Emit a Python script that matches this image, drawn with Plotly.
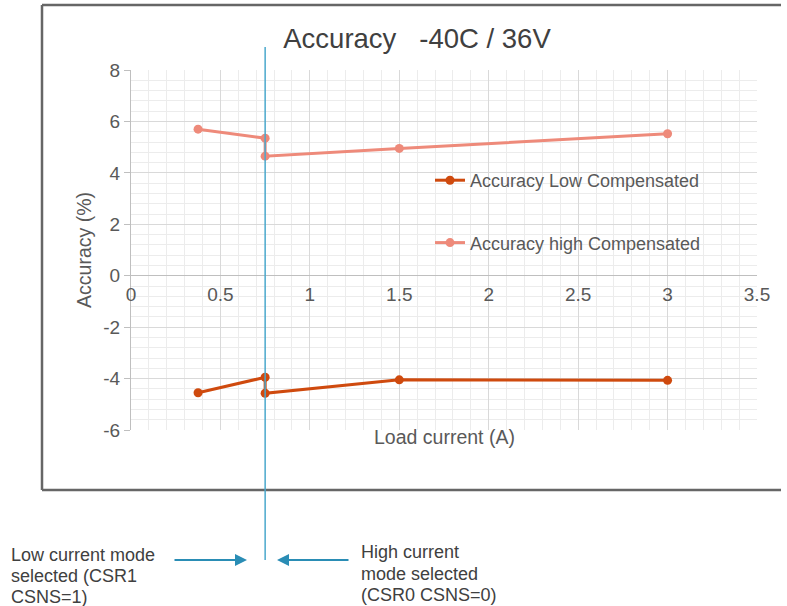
import plotly.graph_objects as go

# ---- data ----
load_current = [0.375, 0.75, 0.75, 1.5, 3.0]
acc_low = [-4.55, -3.95, -4.57, -4.05, -4.07]
acc_high = [5.70, 5.35, 4.65, 4.95, 5.52]
series_names = ["Accuracy Low Compensated", "Accuracy high Compensated"]
mode_switch_current = [0.75]
x_ticks = [0, 0.5, 1, 1.5, 2, 2.5, 3, 3.5]
x_tick_labels = ["0", "0.5", "1", "1.5", "2", "2.5", "3", "3.5"]
y_ticks = [-6, -4, -2, 0, 2, 4, 6, 8]
y_tick_labels = ["-6", "-4", "-2", "0", "2", "4", "6", "8"]
low_note = ["Low current mode", "selected (CSR1", "CSNS=1)"]
high_note = ["High current", "mode selected", "(CSR0 CSNS=0)"]

FONT = "Liberation Sans, Arial, sans-serif"
LOW_C = "#cf4a0e"
HIGH_C = "#ee8a7a"
BLUE = "#4aa8cc"
ARROW = "#2a8db5"
TXT = "#595959"

W, H = 787, 606
# plot area in window pixels: x 131..757, y 70..430
L, T = 131, 70
R = W - 757
B = H - 430
PW, PH = W - L - R, H - T - B


def px(xw):
    return (xw - L) / PW


def py(yw):
    return (H - B - yw) / PH


fig = go.Figure()
fig.add_trace(go.Scatter(x=load_current, y=acc_low, mode="lines+markers",
                         name=series_names[0], legendgroup="a",
                         line=dict(color=LOW_C, width=3),
                         marker=dict(color=LOW_C, size=9)))
fig.add_trace(go.Scatter(x=load_current, y=acc_high, mode="lines+markers",
                         name=series_names[1], legendgroup="b",
                         line=dict(color=HIGH_C, width=3),
                         marker=dict(color=HIGH_C, size=9)))

fig.update_layout(
    width=W, height=H,
    margin=dict(l=L, r=R, t=T, b=B),
    paper_bgcolor="white", plot_bgcolor="white",
    font=dict(family=FONT, color=TXT, size=18),
    title=dict(text="Accuracy\u00a0\u00a0\u00a0-40C / 36V", x=417 / W, xanchor="center",
               y=1 - 38 / H, yanchor="middle",
               font=dict(size=27.5, color="#404040", family=FONT)),
    showlegend=True,
    legend=dict(x=px(430), y=py(162), xanchor="left", yanchor="top",
                bgcolor="rgba(0,0,0,0)", tracegroupgap=36,
                font=dict(size=18, color=TXT)),
    xaxis=dict(range=[0, 3.5], tickvals=x_ticks, ticktext=x_tick_labels,
               anchor="free", position=6 / 14, showline=False, ticks="",
               ticklabelstandoff=5,
               showgrid=True, gridcolor="#d9d9d9", gridwidth=1,
               minor=dict(dtick=0.1, showgrid=True, gridcolor="#ececec", gridwidth=1),
               zeroline=False, tickfont=dict(size=19, color=TXT)),
    yaxis=dict(range=[-6, 8], tickvals=y_ticks, ticktext=y_tick_labels,
               showline=True, linecolor="#bfbfbf",
               linewidth=1, ticks="outside", ticklen=6, tickcolor="#bfbfbf",
               showgrid=True, gridcolor="#d9d9d9", gridwidth=1,
               minor=dict(dtick=0.4, showgrid=True, gridcolor="#ececec", gridwidth=1),
               zeroline=True, zerolinecolor="#bfbfbf", zerolinewidth=1,
               title=dict(text="Accuracy (%)", standoff=6, font=dict(size=19.5, color=TXT)),
               tickfont=dict(size=19, color=TXT)),
)

# outer frame (right side runs off the picture): three separate edges
FRAME = dict(color="#666666", width=2.5)
fx0, fx1, fy0, fy1 = px(42), px(W - 6), py(490), py(5)
fig.add_shape(type="line", xref="paper", yref="paper", x0=fx0, x1=fx1, y0=fy1, y1=fy1,
              line=FRAME, layer="below")
fig.add_shape(type="line", xref="paper", yref="paper", x0=fx0, x1=fx1, y0=fy0, y1=fy0,
              line=FRAME, layer="below")
fig.add_shape(type="line", xref="paper", yref="paper", x0=fx0, x1=fx0, y0=fy0, y1=fy1,
              line=FRAME, layer="below")

# mode switch line
for xs in mode_switch_current:
    fig.add_shape(type="line", xref="x", yref="paper", x0=xs, x1=xs,
                  y0=py(560), y1=py(47), line=dict(color=BLUE, width=1.5))

# x axis title
fig.add_annotation(text="Load current (A)", xref="paper", yref="paper",
                   x=px(444), y=py(450), showarrow=False,
                   font=dict(size=19.5, color=TXT))

# arrows
fig.add_annotation(text="", xref="paper", yref="paper", x=px(247), y=py(560),
                   ax=-74, ay=0, showarrow=True, arrowhead=2, arrowsize=1.2,
                   arrowwidth=2, arrowcolor=ARROW)
fig.add_annotation(text="", xref="paper", yref="paper", x=px(277), y=py(560),
                   ax=73, ay=0, showarrow=True, arrowhead=2, arrowsize=1.2,
                   arrowwidth=2, arrowcolor=ARROW)

for i, line in enumerate(low_note):
    fig.add_annotation(text=line, xref="paper", yref="paper", x=px(9), y=py(555 + 21 * i),
                       xanchor="left", yanchor="middle", showarrow=False,
                       font=dict(size=18, color="#404040"))
for i, line in enumerate(high_note):
    fig.add_annotation(text=line, xref="paper", yref="paper", x=px(359), y=py(552 + 21.5 * i),
                       xanchor="left", yanchor="middle", showarrow=False,
                       font=dict(size=18, color="#404040"))

fig.write_html("out.html", config={"displayModeBar": False},
               post_script="document.body.style.margin='0';document.body.style.overflow='hidden';")
